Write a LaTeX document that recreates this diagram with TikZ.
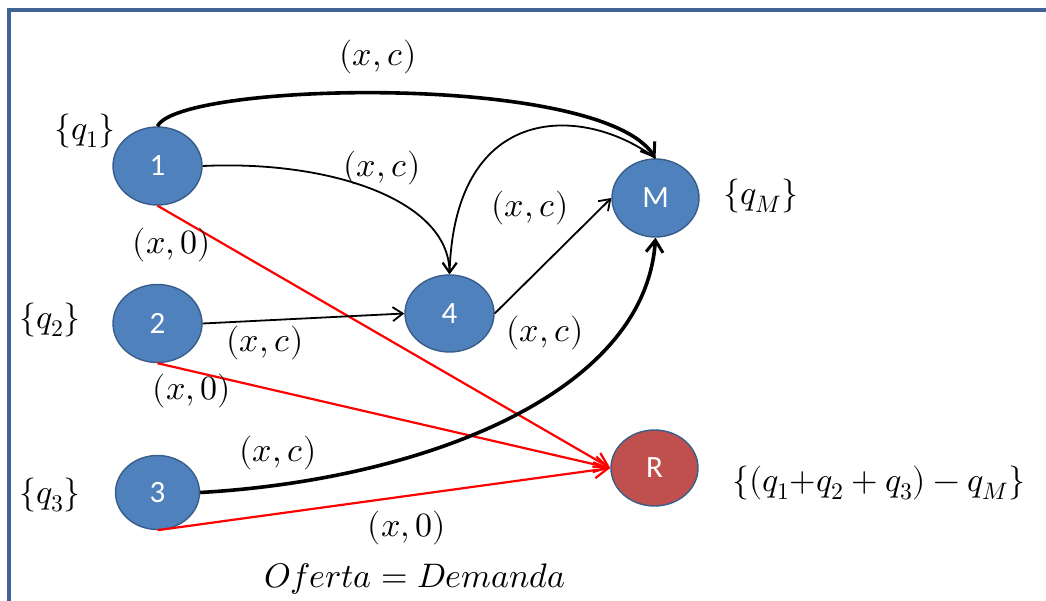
\documentclass[tikz,border=0pt]{standalone}
\usepackage{fontspec}
\usepackage{unicode-math}
\setmathfont{Latin Modern Math}
\newfontfamily\calib{Carlito}
\usetikzlibrary{shapes.geometric,arrows.meta}
\definecolor{nodeblue}{RGB}{79,129,189}
\definecolor{nodeedge}{RGB}{56,93,138}
\definecolor{nodered}{RGB}{192,80,77}
\definecolor{framecol}{RGB}{65,100,150}
\definecolor{redline}{RGB}{255,0,0}
\tikzset{
  vert/.style={ellipse, draw=nodeedge, line width=1.4pt, fill=nodeblue, inner sep=0pt,
     text=white, font=\calib\fontsize{31}{34}\selectfont},
  mlab/.style={inner sep=0pt, font=\fontsize{34}{40}\selectfont},
  thinarc/.style={line width=1.8pt, -{Straight Barb[length=10pt,width=14pt,line width=1.8pt]}},
  thickarc/.style={line width=3.6pt, -{Straight Barb[length=12pt,width=17pt,line width=3pt]}},
  redarc/.style={draw=redline, line width=2.2pt, -{Straight Barb[length=14pt,width=16pt,line width=2.2pt]}},
}
\begin{document}
\begin{tikzpicture}[x=1pt,y=-1pt]
\useasboundingbox (0,0) rectangle (1046,601);
\draw[framecol, line width=3.2pt] (9,601) -- (9,10) -- (1046,10);

% nodes
\node[vert, minimum width=89pt, minimum height=78pt] (n1) at (157.5,166) {1};
\node[vert, minimum width=89pt, minimum height=78pt] (n2) at (157.5,323.5) {2};
\node[vert, minimum width=84pt, minimum height=74pt] (n3) at (157.5,492.5) {3};
\node[vert, minimum width=89pt, minimum height=77pt] (n4) at (449.5,313.5) {4};
\node[vert, minimum width=87pt, minimum height=78pt] (nM) at (655.5,198) {M};
\node[vert, fill=nodered, minimum width=87pt, minimum height=76pt] (nR) at (654.5,468) {R};

% red arcs
\draw[redarc] (n1.south) -- (nR.west);
\draw[redarc] (n2.south) -- (nR.west);
\draw[redarc] (n3.south) -- (nR.west);

% black arcs
\draw[thickarc] (n1.north) .. controls (178,82) and (600,72) .. (nM.north);
\draw[thinarc] (n1.east) .. controls (330,160) and (449,200) .. (n4.north);
\draw[thinarc] (nM.north) .. controls (585,105) and (455,100) .. (n4.north);
\draw[thinarc] (n4.east) -- (nM.west);
\draw[thinarc] (n2.east) -- (n4.west);
\draw[thickarc] (n3.east) .. controls (420,480) and (645,395) .. (nM.south);

% labels
\node[mlab] (l1) at (378,57) {$(x,c)$};
\node[mlab] (l2) at (382,168) {$(x,c)$};
\node[mlab] (l3) at (530,208) {$(x,c)$};
\node[mlab] (l4) at (172,245) {$(x,0)$};
\node[mlab] (l5) at (265,343) {$(x,c)$};
\node[mlab] (l6) at (545,333) {$(x,c)$};
\node[mlab] (l7) at (192,391) {$(x,0)$};
\node[mlab] (l8) at (278,453) {$(x,c)$};
\node[mlab] (l9) at (407,528) {$(x,0)$};
\node[mlab] (q1) at (85,131) {$\{q_1\}$};
\node[mlab] (q2) at (50,320) {$\{q_2\}$};
\node[mlab] (q3) at (50,495) {$\{q_3\}$};
\node[mlab] (qM) at (761,196) {$\{q_M\}$};
\node[mlab] (qR) at (879,483) {$\{(q_1{+}q_2+q_3)-q_M\}$};
\node[mlab] (od) at (415,579) {$Oferta=Demanda$};
\end{tikzpicture}
\end{document}
